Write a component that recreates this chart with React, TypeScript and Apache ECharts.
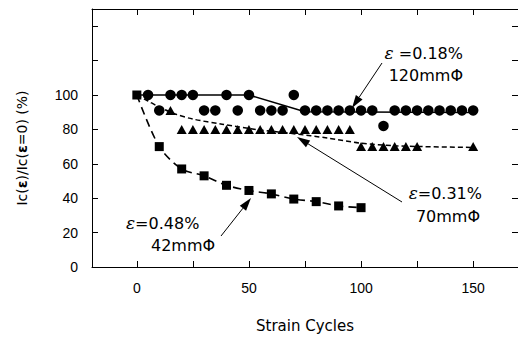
import React, { useEffect, useRef } from "react";
import * as echarts from "echarts";

// Data
const circles: number[][] = [
  [5, 100], [15, 100], [20, 100], [25, 100], [40, 100], [50, 100], [70, 100],
  [10, 91], [30, 91], [35, 91], [45, 91], [55, 91], [60, 91], [65, 91], [75, 91],
  [80, 91], [85, 91], [90, 91], [95, 91], [100, 91], [105, 91], [110, 82],
  [115, 91], [120, 91], [125, 91], [130, 91], [135, 91], [140, 91], [145, 91], [150, 91],
];
const circleFit: number[][] = [[0, 100], [50, 100], [75, 90.3], [150, 89.8]];

const triangles: number[][] = [
  [15, 91],
  [20, 80], [25, 80], [30, 80], [35, 80], [40, 80], [45, 80], [50, 80], [55, 80],
  [60, 80], [65, 80], [70, 80], [75, 80], [80, 80], [85, 80], [90, 80], [95, 80],
  [100, 70], [105, 70], [110, 70], [115, 70], [120, 70], [125, 70], [150, 70],
];
const triangleFit: number[][] = [
  [0, 100], [5, 96.5], [10, 93], [17, 89], [25, 86], [38, 83], [53, 80],
  [70, 77.5], [85, 75], [100, 72], [115, 70.5], [127, 70], [150, 69.5],
];

const squares: number[][] = [
  [0, 100], [10, 70], [20, 57], [30, 53], [40, 47.5], [50, 44.5],
  [60, 42.5], [70, 39.5], [80, 38], [90, 35.5], [100, 34.5],
];

const xTicks = [0, 25, 50, 75, 100, 125, 150];
const xLabels = [0, 50, 100, 150];
const yTicks = [0, 20, 40, 60, 80, 100, 120, 140];
const yLabels = [0, 20, 40, 60, 80, 100];

const SANS = "Liberation Sans";
const WIDE = "DejaVu Sans";

function arrow(x1: number, y1: number, x2: number, y2: number) {
  const ang = Math.atan2(y2 - y1, x2 - x1);
  const len = 13;
  const half = 4;
  const bx = x2 - len * Math.cos(ang);
  const by = y2 - len * Math.sin(ang);
  const px = -Math.sin(ang) * half;
  const py = Math.cos(ang) * half;
  return [
    {
      type: "line",
      shape: { x1, y1, x2: bx, y2: by },
      style: { stroke: "#000", lineWidth: 1 },
    },
    {
      type: "polygon",
      shape: { points: [[x2, y2], [bx + px, by + py], [bx - px, by - py]] },
      style: { fill: "#000" },
    },
  ];
}

function label(x: number, y: number, text: string, align: string) {
  return {
    type: "text",
    x,
    y,
    style: {
      text,
      align,
      verticalAlign: "middle",
      fontFamily: WIDE,
      fontSize: 16,
      fill: "#000",
      rich: {
        e: { fontFamily: "DejaVu Serif", fontStyle: "italic", fontSize: 17, fill: "#000" },
        p: { fontFamily: WIDE, fontSize: 16, fill: "#000" },
      },
    },
  };
}

export default function App() {
  const ref = useRef<HTMLDivElement>(null);
  useEffect(() => {
    if (!ref.current) return;
    const chart = echarts.init(ref.current, null, { renderer: "svg" });
    const axisLine = { show: true, onZero: false, lineStyle: { color: "#000", width: 1 } };
    const tick = (vals: number[]) => ({
      inside: true,
      length: 6,
      customValues: vals,
      lineStyle: { color: "#000", width: 1 },
    });
    const option: any = {
      animation: false,
      backgroundColor: "#fff",
      grid: { left: 92, top: 9, right: -4, bottom: 68, containLabel: false },
      xAxis: [
        {
          type: "value",
          min: -20,
          max: 170,
          position: "bottom",
          axisLine,
          axisTick: tick(xTicks),
          axisLabel: { customValues: xLabels, margin: 14, color: "#000", fontSize: 14, fontFamily: SANS },
          splitLine: { show: false },
          name: "Strain Cycles",
          nameLocation: "middle",
          nameGap: 51,
          nameTextStyle: { color: "#000", fontSize: 15, fontFamily: WIDE },
        },
        {
          type: "value",
          min: -20,
          max: 170,
          position: "top",
          axisLine,
          axisTick: tick(xTicks),
          axisLabel: { show: false },
          splitLine: { show: false },
        },
      ],
      yAxis: [
        {
          type: "value",
          min: 0,
          max: 150,
          position: "left",
          axisLine,
          axisTick: tick(yTicks),
          axisLabel: { customValues: yLabels, margin: 14, color: "#000", fontSize: 14, fontFamily: SANS },
          splitLine: { show: false },
        },
        {
          type: "value",
          min: 0,
          max: 150,
          position: "right",
          axisLine,
          axisTick: tick(yTicks),
          axisLabel: { show: false },
          splitLine: { show: false },
        },
      ],
      series: [
        {
          type: "line",
          data: circleFit,
          showSymbol: false,
          symbol: "none",
          lineStyle: { color: "#000", width: 1.5, type: "solid" },
          z: 2,
        },
        {
          type: "line",
          data: triangleFit,
          showSymbol: false,
          symbol: "none",
          smooth: 0.3,
          lineStyle: { color: "#000", width: 1.5, type: [5, 3] },
          z: 2,
        },
        {
          type: "line",
          data: squares,
          symbol: "rect",
          symbolSize: 9,
          smooth: 0.3,
          itemStyle: { color: "#000", opacity: 1 },
          lineStyle: { color: "#000", width: 1.6, type: [8, 5] },
          z: 3,
        },
        {
          type: "scatter",
          data: circles,
          symbol: "circle",
          symbolSize: 10.5,
          itemStyle: { color: "#000", opacity: 1 },
          z: 3,
        },
        {
          type: "scatter",
          data: triangles,
          symbol: "triangle",
          symbolSize: [10, 9],
          itemStyle: { color: "#000", opacity: 1 },
          z: 3,
        },
      ],
      graphic: [
        {
          type: "text",
          x: 22,
          y: 148,
          rotation: Math.PI / 2,
          style: {
            text: "Ic({b|ε})/Ic({b|ε}=0) (%)",
            align: "center",
            verticalAlign: "middle",
            fontFamily: WIDE,
            fontSize: 14,
            fill: "#000",
            rich: {
              b: { fontFamily: WIDE, fontWeight: "bold", fontSize: 14, fill: "#000" },
            },
          },
        },
        label(463, 53, "{e|ε}{p| =0.18%}", "right"),
        label(463, 75, "120mmΦ", "right"),
        label(482, 193, "{e|ε}{p|=0.31%}", "right"),
        label(480, 216, "70mmΦ", "right"),
        label(126, 223, "{e|ε}{p|=0.48%}", "left"),
        label(151, 245, "42mmΦ", "left"),
        ...arrow(382, 63, 352, 108),
        ...arrow(402, 202, 297, 137),
        ...arrow(221, 236, 251, 198),
      ],
    };
    chart.setOption(option);
    return () => chart.dispose();
  }, []);
  return (
    <div
      ref={ref}
      style={{ position: "absolute", left: 0, top: 0, width: 518, height: 338 }}
    />
  );
}
